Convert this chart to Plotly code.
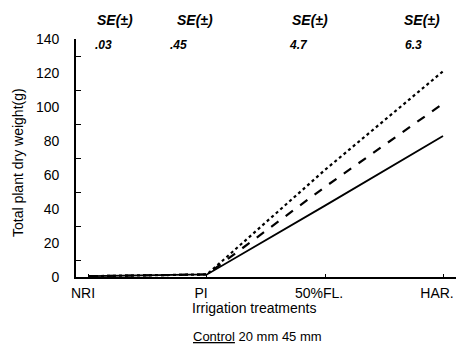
import plotly.graph_objects as go

categories = ["NRI", "PI", "50%FL.", "HAR."]
control = [0.5, 1.5, 42, 83]
mm20 = [0.5, 1.5, 53, 102]
mm45 = [0.5, 1.5, 63, 121]
se_values = [".03", ".45", "4.7", "6.3"]
y_ticks = [0, 20, 40, 60, 80, 100, 120, 140]

x = list(range(len(categories)))
FONT = "Liberation Sans, Arial, sans-serif"

fig = go.Figure()
fig.add_trace(go.Scatter(x=x, y=control, mode="lines", line=dict(color="black", width=1.8), name="Control"))
fig.add_trace(go.Scatter(x=x, y=mm20, mode="lines", line=dict(color="black", width=2.2, dash="dash"), name="20 mm"))
fig.add_trace(go.Scatter(x=x, y=mm45, mode="lines", line=dict(color="black", width=2.2, dash="dot"), name="45 mm"))

L, R, T, B = 76, 5, 39, 67
pw, ph = 461 - L - R, 344 - T - B

def px_ann(px, py, text, size=14, angle=0):
    return dict(x=(px - L) / pw, y=((344 - py) - B) / ph, xref="paper", yref="paper", text=text,
                xanchor="center", yanchor="middle",
                showarrow=False, textangle=angle, font=dict(size=size, family=FONT, color="black"))

ann = []
se_x = [115, 195, 310, 422]
val_x = [103, 178, 298, 413]
for sx, vx, v in zip(se_x, val_x, se_values):
    ann.append(px_ann(sx, 20, "<b><i>SE(±)</i></b>", 14))
    ann.append(px_ann(vx, 45, "<b><i>" + v + "</i></b>", 12))

ann.append(px_ann(254, 308, "Irrigation treatments", 14))
ann.append(px_ann(257, 336, "<u>Control</u> 20 mm 45 mm", 13))
ann.append(px_ann(18, 163, "Total plant dry weight(g)", 14, -90))

fig.update_layout(
    width=461, height=344,
    margin=dict(l=L, r=R, t=T, b=B),
    paper_bgcolor="white", plot_bgcolor="white",
    showlegend=False,
    font=dict(family=FONT, size=14, color="black"),
    xaxis=dict(range=[-0.11, 3.11], tickvals=x, ticktext=categories, ticks="inside", ticklen=3,
               tickcolor="black", showline=True, linecolor="black", linewidth=1.8,
               showgrid=False, zeroline=False, ticklabelshift=-6, ticklabelstandoff=2,
               tickfont=dict(size=14)),
    yaxis=dict(range=[0, 140], tickvals=y_ticks, ticks="", showline=True, linecolor="black",
               linewidth=1.8, showgrid=False, zeroline=False, tickfont=dict(size=14),
               ticklabelstandoff=12,
               minor=dict(tickvals=[10, 30, 50, 70, 90, 110, 130], ticks="inside", ticklen=5,
                          tickcolor="black", showgrid=False)),
    annotations=ann,
)

fig.write_html("out.html")
